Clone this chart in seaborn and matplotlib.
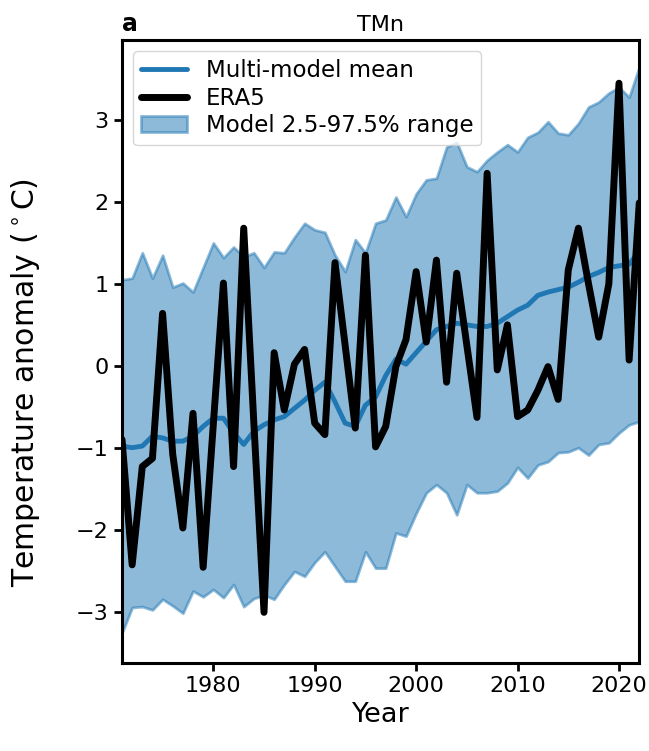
import numpy as np
import pandas as pd
import matplotlib
matplotlib.use("Agg")
import matplotlib.pyplot as plt
import seaborn as sns

years = list(range(1971, 2023))

era5 = [-0.90, -2.43, -1.23, -1.13, 0.64, -1.08, -1.98, -0.58, -2.46, -0.72,
        1.01, -1.23, 1.68, -0.70, -3.01, 0.16, -0.54, 0.02, 0.20, -0.70,
        -0.84, 1.26, 0.25, -0.76, 1.35, -0.99, -0.74, -0.01, 0.32, 1.15,
        0.29, 1.29, -0.20, 1.13, 0.25, -0.63, 2.35, -0.05, 0.50, -0.62,
        -0.54, -0.30, -0.01, -0.41, 1.17, 1.68, 1.00, 0.35, 1.00, 3.45,
        0.07, 1.99]

mmm = [-0.98, -1.00, -0.98, -0.86, -0.88, -0.92, -0.92, -0.86, -0.74, -0.64,
       -0.64, -0.82, -0.96, -0.80, -0.72, -0.66, -0.62, -0.52, -0.42, -0.30,
       -0.20, -0.44, -0.70, -0.74, -0.48, -0.38, -0.12, 0.08, 0.02, 0.16,
       0.30, 0.44, 0.48, 0.52, 0.50, 0.48, 0.48, 0.52, 0.60, 0.68,
       0.74, 0.86, 0.90, 0.93, 0.96, 1.02, 1.09, 1.14, 1.20, 1.22,
       1.24, 1.40]

upper = [1.05, 1.07, 1.38, 1.07, 1.35, 0.96, 1.01, 0.90, 1.20, 1.50,
         1.32, 1.45, 1.33, 1.38, 1.20, 1.39, 1.38, 1.57, 1.74, 1.66,
         1.63, 1.35, 1.15, 1.54, 1.38, 1.74, 1.78, 2.06, 1.82, 2.10,
         2.27, 2.29, 2.67, 2.73, 2.43, 2.37, 2.51, 2.61, 2.70, 2.61,
         2.79, 2.85, 2.98, 2.84, 2.82, 2.96, 3.16, 3.22, 3.33, 3.40,
         3.28, 3.65]

lower = [-3.26, -2.95, -2.94, -2.98, -2.85, -2.93, -3.02, -2.75, -2.82, -2.73,
         -2.83, -2.67, -2.94, -2.84, -2.80, -2.85, -2.67, -2.51, -2.57, -2.40,
         -2.27, -2.45, -2.63, -2.63, -2.27, -2.47, -2.47, -2.04, -2.08, -1.80,
         -1.55, -1.45, -1.55, -1.82, -1.45, -1.55, -1.55, -1.53, -1.43, -1.24,
         -1.37, -1.21, -1.17, -1.06, -1.05, -1.00, -1.09, -0.96, -0.94, -0.82,
         -0.72, -0.68]

df = pd.DataFrame({"Year": years, "ERA5": era5, "MMM": mmm,
                   "lo": lower, "hi": upper})

sns.set_style("ticks")
plt.rcParams.update({
    "font.family": ["DejaVu Sans"],
    "text.color": "black",
    "axes.labelcolor": "black",
    "axes.edgecolor": "black",
    "xtick.color": "black",
    "ytick.color": "black",
    "axes.linewidth": 2.2,
    "xtick.major.width": 2.0,
    "ytick.major.width": 2.0,
    "xtick.major.size": 6,
    "ytick.major.size": 6,
})

fig = plt.figure(figsize=(6.49, 7.51), dpi=100)
ax = fig.add_axes([0.188, 0.117, 0.797, 0.830])

blue = "#1f77b4"
ax.fill_between(df["Year"], df["lo"], df["hi"], color=blue, alpha=0.5,
                linewidth=2, label="Model 2.5-97.5% range")
sns.lineplot(data=df, x="Year", y="MMM", ax=ax, color=blue, linewidth=3.5,
             label="Multi-model mean")
sns.lineplot(data=df, x="Year", y="ERA5", ax=ax, color="black", linewidth=5,
             label="ERA5")

ax.set_xlim(1971, 2022)
ax.set_ylim(-3.63, 3.98)
ax.set_xticks([1980, 1990, 2000, 2010, 2020])
ax.set_yticks([-3, -2, -1, 0, 1, 2, 3])
ax.tick_params(labelsize=16)
ax.set_xlabel("Year", fontsize=19.5)
ax.set_ylabel("Temperature anomaly ($^\\circ$C)", fontsize=21.5)
ax.yaxis.set_label_coords(-0.155, 0.45)
ax.set_title("TMn", fontsize=16)
ax.set_title("a", loc="left", fontsize=17, fontweight="bold")

handles, labels = ax.get_legend_handles_labels()
order = [labels.index(n) for n in ["Multi-model mean", "ERA5", "Model 2.5-97.5% range"]]
ax.legend([handles[i] for i in order], [labels[i] for i in order],
          loc="upper left", fontsize=16.5, handlelength=2.0,
          borderpad=0.35, labelspacing=0.2, framealpha=0.8)

fig.savefig("out.png", dpi=100)
